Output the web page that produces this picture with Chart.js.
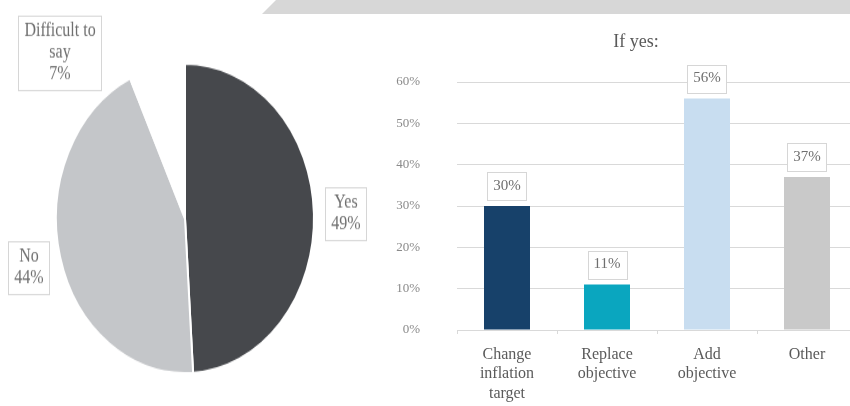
<!DOCTYPE html>
<html>
<head>
<meta charset="utf-8">
<script src="https://cdn.jsdelivr.net/npm/chart.js@4.4.0/dist/chart.umd.min.js"></script>
<style>
    body { margin: 0; width: 850px; height: 406px; overflow: hidden; background: #fff; position: relative; }
    .band { position: absolute; left: 262px; top: 0; width: 588px; height: 14px; background: #d7d7d7;
        clip-path: polygon(14px 0, 100% 0, 100% 100%, 0 100%); }
    .pieBox { position: absolute; left: 0; top: 0; width: 380px; height: 340px; transform: scaleY(1.2); transform-origin: top left; }
    .barBox { position: absolute; left: 380px; top: 0; width: 480px; height: 406px; }
</style>
</head>
<body>
<div class="band"></div>
<div class="pieBox"><canvas id="pieChart"></canvas></div>
<div class="barBox"><canvas id="barChart"></canvas></div>
<script>
// Pie: should the framework change?
const pieLabels = ["Yes", "No", "Difficult to say"];
const pieValues = [49, 44, 7];
const pieColors = ['#46484c', '#c4c6c9', '#ffffff'];

// Bars: "If yes:"
const barTitle = 'If yes:';
const barLabels = [["Change", "inflation", "target"], ["Replace", "objective"], ["Add", "objective"], ["Other"]];
const barValues = [30, 11, 56, 37];
const barColors = ['#17416a', '#0aa6bf', '#c8ddf0', '#c9c9c9'];
const yMax = 60;
const yStep = 10;

const serif = "'Liberation Serif', 'DejaVu Serif', serif";

// boxed label helper
function drawBox(ctx, lines, cx, cy, size, lineH, padX, padY) {
    ctx.save();
    ctx.font = size + 'px ' + serif;
    let w = 0;
    lines.forEach(l => { w = Math.max(w, ctx.measureText(l).width); });
    const bw = w + padX * 2, bh = lines.length * lineH + padY * 2;
    ctx.fillStyle = '#fff';
    ctx.fillRect(cx - bw / 2, cy - bh / 2, bw, bh);
    ctx.strokeStyle = '#d6d6d6';
    ctx.lineWidth = 1;
    ctx.strokeRect(Math.round(cx - bw / 2) + 0.5, Math.round(cy - bh / 2) + 0.5, Math.round(bw), Math.round(bh));
    ctx.fillStyle = '#6f6f6f';
    ctx.textAlign = 'center';
    ctx.textBaseline = 'middle';
    lines.forEach((l, i) => {
        ctx.fillText(l, cx, cy - bh / 2 + padY + lineH * (i + 0.5));
    });
    ctx.restore();
}

const pieLabelPlugin = {
    id: 'pieLabels',
    afterDraw(chart, args, opts) {
        const meta = chart.getDatasetMeta(0);
        const ctx = chart.ctx;
        meta.data.forEach((arc, i) => {
            const off = opts.offsets[i];
            const lines = opts.lines[i].concat([pieValues[i] + '%']);
            drawBox(ctx, lines, arc.x + off[0], arc.y + off[1], 16, 18, 6, 4);
        });
    }
};

new Chart(document.getElementById('pieChart').getContext('2d'), {
    type: 'pie',
    data: {
        labels: pieLabels,
        datasets: [{
            data: pieValues,
            backgroundColor: pieColors,
            borderColor: '#ffffff',
            borderWidth: 2
        }]
    },
    options: {
        responsive: true,
        maintainAspectRatio: false,
        animation: false,
        layout: { padding: { left: 55, right: 65, top: 52, bottom: 28 } },
        plugins: {
            legend: { display: false },
            tooltip: { enabled: false },
            pieLabels: {
                lines: [["Yes"], ["No"], ["Difficult to", "say"]],
                offsets: [[161, -4], [-156, 41], [-125, -138]]
            }
        }
    },
    plugins: [pieLabelPlugin]
});

// value boxes over the bars + the title (title sits off the plot centre in the original)
const barLabelPlugin = {
    id: 'barLabels',
    afterDatasetsDraw(chart) {
        const meta = chart.getDatasetMeta(0);
        meta.data.forEach((bar, i) => {
            drawBox(chart.ctx, [barValues[i] + '%'], bar.x, bar.y - 20, 15, 16, 6, 6);
        });
    },
    afterDraw(chart) {
        const ctx = chart.ctx;
        ctx.save();
        ctx.font = '18px ' + serif;
        ctx.fillStyle = '#5a5a5a';
        ctx.textAlign = 'center';
        ctx.textBaseline = 'middle';
        ctx.fillText(barTitle, 256, 42);
        ctx.restore();
    }
};

new Chart(document.getElementById('barChart').getContext('2d'), {
    type: 'bar',
    data: {
        labels: barLabels,
        datasets: [{
            data: barValues,
            backgroundColor: barColors,
            categoryPercentage: 0.8,
            barPercentage: 0.575
        }]
    },
    options: {
        responsive: true,
        maintainAspectRatio: false,
        animation: false,
        layout: { padding: { left: 15, right: 3, top: 82, bottom: 0 } },
        scales: {
            x: {
                afterFit: function (scale) { scale.height = 76; },
                grid: { drawOnChartArea: false, tickLength: 4, color: '#d9d9d9' },
                border: { color: '#d9d9d9' },
                ticks: {
                    color: '#5a5a5a',
                    font: { family: serif, size: 16, lineHeight: 1.22 },
                    padding: 11,
                    maxRotation: 0,
                    autoSkip: false
                }
            },
            y: {
                min: 0,
                max: yMax,
                afterFit: function (scale) { scale.width = 62; },
                grid: { color: '#d9d9d9', drawTicks: false },
                border: { display: false },
                ticks: {
                    stepSize: yStep,
                    color: '#8a8a8a',
                    font: { family: serif, size: 13 },
                    padding: 37,
                    callback: function (value) { return value + '%'; }
                }
            }
        },
        plugins: {
            legend: { display: false },
            tooltip: { enabled: false }
        }
    },
    plugins: [barLabelPlugin]
});
</script>
</body>
</html>
